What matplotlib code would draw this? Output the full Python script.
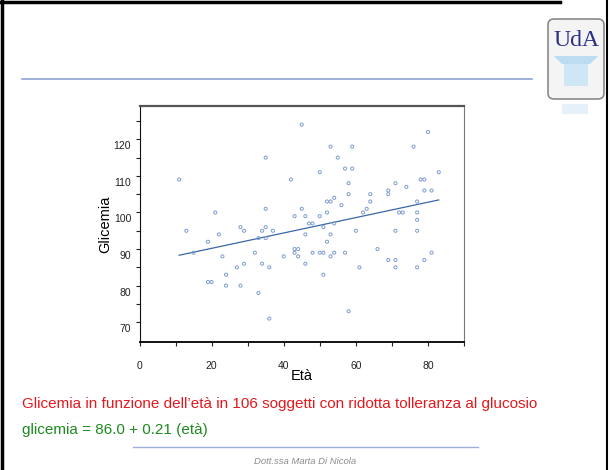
import matplotlib
matplotlib.use('Agg')
import matplotlib.pyplot as plt
from matplotlib.patches import FancyBboxPatch, Rectangle, Polygon
from matplotlib.transforms import ScaledTranslation
import numpy as np

# data (età, glicemia)
eta = [11, 21, 13, 19, 22, 28, 29, 35, 35, 35, 34, 33, 35, 37, 42, 43, 45,
       15, 23, 27, 29, 24, 19, 20, 24, 28, 32, 34, 36, 33, 36, 40, 43, 44,
       43, 44, 46, 46, 48, 50, 51, 53, 54, 57, 51, 52, 53, 51, 60, 58, 61,
       66, 69, 71, 71, 71, 77, 77, 79, 81, 53, 59, 55, 50, 57, 59, 58, 58,
       54, 52, 53, 56, 45, 46, 50, 52, 47, 48, 54, 62, 63, 64, 64, 69, 69,
       71, 74, 76, 80, 78, 79, 83, 79, 81, 77, 77, 77, 72, 73]
glicemia = [109, 100, 95, 92, 94, 96, 95, 115, 101, 96, 95, 93, 93, 95, 109, 99, 124,
            89, 88, 85, 86, 83, 81, 81, 80, 80, 89, 86, 85, 78, 71, 88, 90, 90,
            89, 88, 94, 86, 89, 89, 89, 88, 89, 89, 83, 92, 94, 96, 95, 73, 85,
            90, 87, 87, 85, 95, 95, 85, 87, 89, 118, 118, 115, 111, 112, 112, 108, 105,
            104, 103, 103, 102, 101, 99, 99, 100, 97, 97, 97, 100, 101, 103, 105, 106, 105,
            108, 107, 118, 122, 109, 109, 111, 106, 106, 103, 100, 98, 100, 100]

intercept = 86.0
slope = 0.21

x_ticks = [0, 20, 40, 60, 80]
y_ticks = [70, 80, 90, 100, 110, 120]

caption = 'Glicemia in funzione dell\u2019et\u00e0 in 106 soggetti con ridotta tolleranza al glucosio'
equation = 'glicemia = 86.0 + 0.21 (et\u00e0)'
author = 'Dott.ssa Marta Di Nicola'

plt.rcParams['font.family'] = ['Liberation Sans', 'DejaVu Sans']

fig = plt.figure(figsize=(6.1, 4.7), dpi=100)

# slide decorations drawn in pixel space
bg = fig.add_axes([0, 0, 1, 1])
bg.set_xlim(0, 610)
bg.set_ylim(470, 0)
bg.axis('off')
bg.plot([2, 2], [0, 470], color='black', lw=2.5)
bg.plot([0, 560], [2, 2], color='black', lw=2.5)
bg.plot([607, 607], [0, 470], color='black', lw=1.5)
bg.plot([22, 532], [79, 79], color='#8ea3d6', lw=1.2)
bg.plot([133, 478], [447, 447], color='#9fb0d8', lw=1)

# logo
bg.add_patch(FancyBboxPatch((549, 20), 54, 78, boxstyle='round,pad=1,rounding_size=6',
                            fc='#f4f4f4', ec='#8a8a8a', lw=1.2))
bg.add_patch(Polygon([[554, 56], [598, 56], [590, 64], [562, 64]], closed=True,
                     fc='#bcdcf2', ec='none'))
bg.add_patch(Rectangle((564, 64), 24, 22, fc='#cfe6f6', ec='none'))
bg.text(576, 40, "UdA", fontsize=17, color='#2a2f86', ha='center', va='center',
        family='Liberation Serif')
bg.add_patch(Rectangle((562, 104), 26, 10, fc='#e6f0f8', ec='none'))

bg.text(22, 404, caption, fontsize=11, color='#e2191e', va='center', ha='left')
bg.text(22, 430, equation, fontsize=11, color='#1f8a1f', va='center', ha='left')
bg.text(305, 462, author, fontsize=6.8, color='#8c8c8c', style='italic',
        va='center', ha='center')

# scatter plot
ax = fig.add_axes([139.5 / 610, 1 - 342 / 470, (464 - 139.5) / 610, (342 - 106) / 470])
ax.scatter(eta, glicemia, s=5, facecolors='none', edgecolors='#7d9dd0', linewidths=0.7,
           zorder=3)
xl = np.array([min(eta), max(eta)])
ax.plot(xl, intercept + slope * xl, color='#3a68a6', lw=0.9, zorder=2)

ax.set_xlim(0, 90)
ax.set_ylim(64.6, 129.1)
ax.set_xticks(x_ticks)
ax.set_xticks(np.arange(0, 91, 10), minor=True)
ax.set_yticks(y_ticks)
ax.set_yticks(np.arange(70, 126, 5), minor=True)
ax.tick_params(which='both', direction='out', length=3, width=0.8, color='#222222',
               labelsize=7.5, labelcolor='#222222')
ax.tick_params(axis='x', pad=11)
ax.tick_params(axis='y', pad=3)
for lab in ax.get_yticklabels():
    lab.set_transform(lab.get_transform() + ScaledTranslation(0, -6 / 100, fig.dpi_scale_trans))

ax.spines['left'].set_color('#111111')
ax.spines['bottom'].set_color('#111111')
ax.spines['bottom'].set_linewidth(1.4)
ax.spines['top'].set_color('#555555')
ax.spines['top'].set_linewidth(1.6)
ax.spines['right'].set_color('#777777')
ax.spines['right'].set_linewidth(0.8)

ax.set_xlabel('Et\u00e0', fontsize=10.5, labelpad=-2)
ax.set_ylabel('Glicemia', fontsize=10.5, labelpad=1)

fig.savefig('out.png', dpi=100)
